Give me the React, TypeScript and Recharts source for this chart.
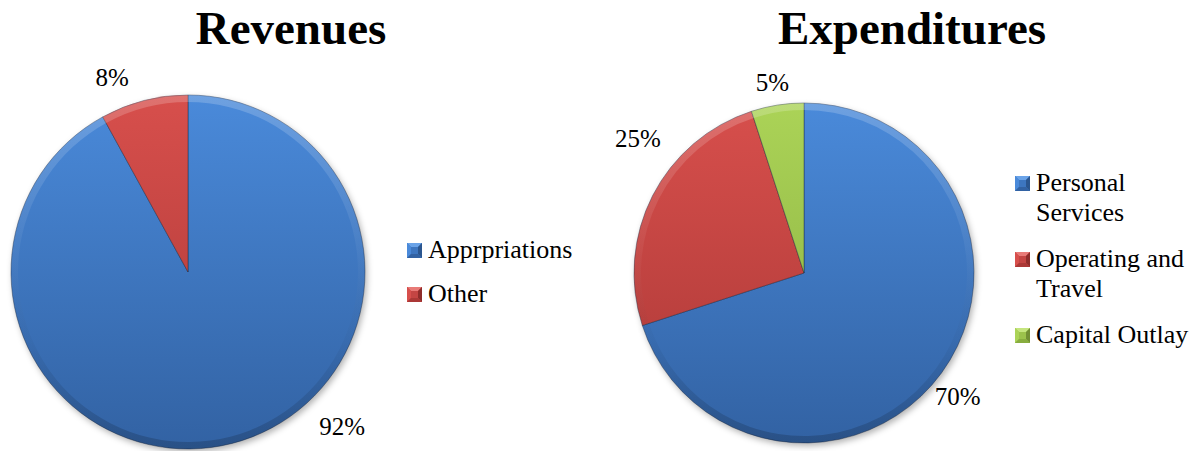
import { PieChart, Pie, Cell, Legend } from 'recharts';

// Revenue split (percent)
const revenueNames = ['Apprpriations', 'Other'];
const revenueValues = [92, 8];

// Expenditure split (percent)
const expenditureNames = ['Personal Services', 'Operating and Travel', 'Capital Outlay'];
const expenditureValues = [70, 25, 5];

const SERIF = '"Liberation Serif", "DejaVu Serif", serif';

const palette = [
  { id: 'blue', top: '#4a8ada', bottom: '#3262a3', base: '#3d76c0', light: '#6aa3e8', dark: '#2b568f' },
  { id: 'red', top: '#d74f4c', bottom: '#ab3836', base: '#c44543', light: '#e87a77', dark: '#8f2d2b' },
  { id: 'green', top: '#abd357', bottom: '#88ad3f', base: '#9cc24c', light: '#c5e57f', dark: '#728f34' },
];

// label placement tweaks per slice (degrees added to mid angle, px beyond the rim)
const revenueLabelPos = [
  { angle: 30.6, gap: 41 },
  { angle: 6.9, gap: 32 },
];
const expenditureLabelPos = [
  { angle: -2.7, gap: 27 },
  { angle: -12.1, gap: 44 },
  { angle: 0.4, gap: 23 },
];

const RADIAN = Math.PI / 180;

const makeLabel = (pos: { angle: number; gap: number }[]) => (props: any) => {
  const { cx, cy, midAngle, outerRadius, value, index } = props;
  const p = pos[index] || { angle: 0, gap: 28 };
  const a = (midAngle + p.angle) * RADIAN;
  const r = outerRadius + p.gap;
  return (
    <text
      x={cx + r * Math.cos(a)}
      y={cy - r * Math.sin(a)}
      textAnchor="middle"
      dominantBaseline="central"
      style={{ fontFamily: SERIF, fontSize: 25 }}
      fill="#000"
    >
      {value}%
    </text>
  );
};

const BevelSquare = ({ c }: { c: (typeof palette)[number] }) => (
  <svg width={15} height={15} style={{ flex: 'none', marginTop: 8, marginRight: 6 }}>
    <rect x={0} y={0} width={15} height={15} fill={c.base} />
    <polygon points="0,0 15,0 11,4 4,4" fill={c.light} />
    <polygon points="0,0 4,4 4,11 0,15" fill={c.top} />
    <polygon points="15,0 15,15 11,11 11,4" fill={c.dark} />
    <polygon points="0,15 15,15 11,11 4,11" fill={c.bottom} />
  </svg>
);

const LegendList = ({ payload, names, textWidth, gap }: { payload?: any[]; names: string[]; textWidth: number; gap: number }) => {
  // the shadow and rim pies repeat the same names, keep one entry per slice
  const seen = new Set<string>();
  const items = (payload || []).filter((e) => {
    if (e.type === 'none' || !names.includes(e.value) || seen.has(e.value)) return false;
    seen.add(e.value);
    return true;
  });
  return (
    <div style={{ display: 'flex', flexDirection: 'column', gap }}>
      {items.map((entry) => {
        const idx = names.indexOf(entry.value);
        return (
          <div key={entry.value} style={{ display: 'flex', alignItems: 'flex-start' }}>
            <BevelSquare c={palette[idx]} />
            <span
              style={{
                width: textWidth,
                fontFamily: SERIF,
                fontSize: 26,
                lineHeight: '30px',
                color: '#000',
              }}
            >
              {entry.value}
            </span>
          </div>
        );
      })}
    </div>
  );
};

// slice fills, a rim shading ring and a soft shadow blur
const Defs = ({ prefix, y1, y2 }: { prefix: string; y1: number; y2: number }) => (
  <defs>
    {palette.map((c) => (
      <linearGradient key={c.id} id={`${prefix}-${c.id}`} x1="0" y1={y1} x2="0" y2={y2} gradientUnits="userSpaceOnUse">
        <stop offset="0%" stopColor={c.top} />
        <stop offset="100%" stopColor={c.bottom} />
      </linearGradient>
    ))}
    <linearGradient id={`${prefix}-rim`} x1="0" y1={y1} x2="0" y2={y2} gradientUnits="userSpaceOnUse">
      <stop offset="0%" stopColor="#ffffff" stopOpacity={0.2} />
      <stop offset="45%" stopColor="#ffffff" stopOpacity={0.04} />
      <stop offset="70%" stopColor="#000000" stopOpacity={0.03} />
      <stop offset="100%" stopColor="#000000" stopOpacity={0.18} />
    </linearGradient>
    <filter id={`${prefix}-shadow`} x="-20%" y="-20%" width="140%" height="140%">
      <feGaussianBlur stdDeviation="3" />
    </filter>
  </defs>
);

const titleStyle = (center: number): React.CSSProperties => ({
  position: 'absolute',
  top: 5,
  left: center - 200,
  width: 400,
  textAlign: 'center',
  fontFamily: SERIF,
  fontWeight: 'bold',
  fontSize: 47,
  lineHeight: '47px',
  color: '#000',
});

const revenueData = revenueNames.map((name, i) => ({ name, value: revenueValues[i] }));
const expenditureData = expenditureNames.map((name, i) => ({ name, value: expenditureValues[i] }));

type PieBlockProps = {
  prefix: string;
  data: { name: string; value: number }[];
  names: string[];
  width: number;
  cx: number;
  cy: number;
  r: number;
  labelPos: { angle: number; gap: number }[];
  legendStyle: React.CSSProperties;
  legendTextWidth: number;
  legendGap: number;
};

const PieBlock = ({ prefix, data, names, width, cx, cy, r, labelPos, legendStyle, legendTextWidth, legendGap }: PieBlockProps) => (
  <PieChart width={width} height={451} margin={{ top: 0, right: 0, bottom: 0, left: 0 }}>
    <Defs prefix={prefix} y1={cy - r} y2={cy + r} />
    {/* soft shadow under the pie */}
    <Pie
      data={data}
      dataKey="value"
      cx={cx + 2}
      cy={cy + 3}
      outerRadius={r}
      startAngle={90}
      endAngle={-270}
      stroke="none"
      fill="#000"
      fillOpacity={0.3}
      legendType="none"
      label={false}
      labelLine={false}
      isAnimationActive={false}
    >
      {data.map((d) => (
        <Cell key={d.name} filter={`url(#${prefix}-shadow)`} />
      ))}
    </Pie>
    <Pie
      data={data}
      dataKey="value"
      nameKey="name"
      cx={cx}
      cy={cy}
      outerRadius={r}
      startAngle={90}
      endAngle={-270}
      stroke="rgba(20,35,60,0.5)"
      strokeWidth={0.8}
      labelLine={false}
      label={makeLabel(labelPos)}
      isAnimationActive={false}
    >
      {data.map((d, i) => (
        <Cell key={d.name} fill={`url(#${prefix}-${palette[i].id})`} />
      ))}
    </Pie>
    {/* bevel rim shading */}
    <Pie
      data={data}
      dataKey="value"
      cx={cx}
      cy={cy}
      innerRadius={r - 7}
      outerRadius={r}
      startAngle={90}
      endAngle={-270}
      stroke="none"
      fill={`url(#${prefix}-rim)`}
      legendType="none"
      label={false}
      labelLine={false}
      isAnimationActive={false}
    />
    <Legend
      layout="vertical"
      align="right"
      verticalAlign="middle"
      itemSorter={(item: any) => names.indexOf(item.value)}
      wrapperStyle={legendStyle}
      content={(props: any) => (
        <LegendList payload={props.payload} names={names} textWidth={legendTextWidth} gap={legendGap} />
      )}
    />
  </PieChart>
);

export default function App() {
  return (
    <div style={{ position: 'absolute', left: 0, top: 0, width: 1195, height: 451, background: '#fff', fontFamily: SERIF }}>
      <div style={titleStyle(291)}>Revenues</div>
      <div style={titleStyle(912)}>Expenditures</div>

      <div style={{ position: 'absolute', left: 0, top: 0 }}>
        <PieBlock
          prefix="rev"
          data={revenueData}
          names={revenueNames}
          width={600}
          cx={188}
          cy={272}
          r={177}
          labelPos={revenueLabelPos}
          legendStyle={{ left: 407, top: 235, width: 190 }}
          legendTextWidth={165}
          legendGap={14}
        />
      </div>

      <div style={{ position: 'absolute', left: 600, top: 0 }}>
        <PieBlock
          prefix="exp"
          data={expenditureData}
          names={expenditureNames}
          width={595}
          cx={204}
          cy={273}
          r={170}
          labelPos={expenditureLabelPos}
          legendStyle={{ left: 415, top: 168, width: 180 }}
          legendTextWidth={158}
          legendGap={16}
        />
      </div>
    </div>
  );
}
